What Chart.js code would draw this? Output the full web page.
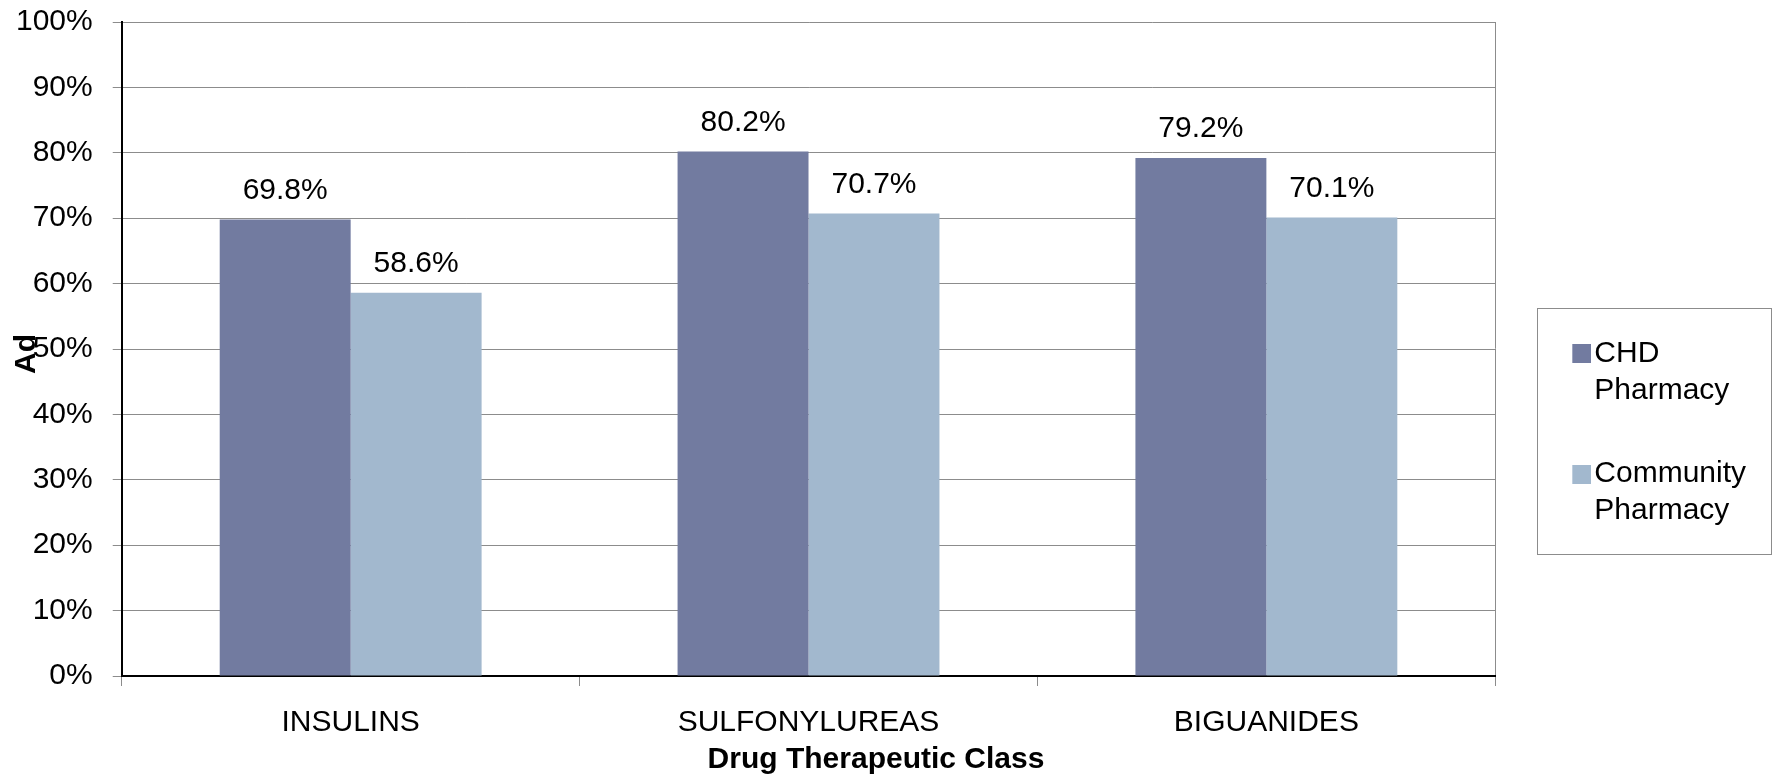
<!doctype html>
<html>
<head>
<meta charset="utf-8">
<script src="https://cdn.jsdelivr.net/npm/chart.js@4.4.1/dist/chart.umd.min.js"></script>
</head>
<body style="margin:0;background:#fff;overflow:hidden;">
<div style="width:1773px;height:782px;position:relative;">
    <canvas id="myChart"></canvas>
</div>
<script>
const categories = ['INSULINS', 'SULFONYLUREAS', 'BIGUANIDES'];
const chdPharmacy = [69.8, 80.2, 79.2];
const communityPharmacy = [58.6, 70.7, 70.1];
const seriesNames = ['CHD Pharmacy', 'Community Pharmacy'];
const seriesColors = ['rgb(114,123,160)', 'rgb(162,184,206)'];
const yTicks = [0, 10, 20, 30, 40, 50, 60, 70, 80, 90, 100];

const FONT = "'Liberation Sans', Arial, sans-serif";
Chart.defaults.font.family = FONT;
Chart.defaults.color = '#000';

// legend swatch: square sits at the right end so the text comes close to it
function swatch(color) {
    const c = document.createElement('canvas');
    c.width = 61;
    c.height = 19;
    const g = c.getContext('2d');
    g.fillStyle = color;
    g.fillRect(42, 0, 19, 19);
    return c;
}

// value labels over the bars, the cut off "Ad" y title and the legend frame
const extras = {
    id: 'extras',
    afterDatasetsDraw(chart) {
        const ctx = chart.ctx;
        ctx.save();
        ctx.font = '30px ' + FONT;
        ctx.fillStyle = '#000';
        ctx.textAlign = 'center';
        ctx.textBaseline = 'middle';
        chart.data.datasets.forEach((ds, i) => {
            chart.getDatasetMeta(i).data.forEach((bar, j) => {
                ctx.fillText(ds.data[j].toFixed(1) + '%', bar.x, bar.y - 29);
            });
        });
        const area = chart.chartArea;
        ctx.font = 'bold 30px ' + FONT;
        ctx.translate(27, (area.top + area.bottom) / 2 + 5);
        ctx.rotate(-Math.PI / 2);
        ctx.fillText('Ad', 0, 0);
        ctx.restore();
    },
    afterDraw(chart) {
        const lg = chart.legend;
        if (!lg || !lg.legendHitBoxes.length) return;
        const first = lg.legendHitBoxes[0];
        const last = lg.legendHitBoxes[lg.legendHitBoxes.length - 1];
        const x0 = Math.round(first.left - 5) + 0.5;
        const y0 = Math.round(first.top - 30) + 0.5;
        const y1 = Math.round(last.top + last.height + 21) + 0.5;
        const ctx = chart.ctx;
        ctx.save();
        ctx.strokeStyle = '#8c8c8c';
        ctx.lineWidth = 1;
        ctx.strokeRect(x0, y0, chart.width - 1.5 - x0, y1 - y0);
        ctx.restore();
    }
};

const ctx = document.getElementById('myChart').getContext('2d');
const myChart = new Chart(ctx, {
    type: 'bar',
    data: {
        labels: categories,
        datasets: [{
            label: seriesNames[0],
            data: chdPharmacy,
            backgroundColor: seriesColors[0],
            borderWidth: 0
        }, {
            label: seriesNames[1],
            data: communityPharmacy,
            backgroundColor: seriesColors[1],
            borderWidth: 0
        }]
    },
    options: {
        responsive: true,
        maintainAspectRatio: false,
        animation: false,
        layout: { padding: { left: -4, right: 17, top: 22, bottom: 0 } },
        datasets: { bar: { barPercentage: 1, categoryPercentage: 0.572 } },
        scales: {
            x: {
                offset: true,
                grid: {
                    offset: true,
                    drawOnChartArea: true,
                    color: c => c.tick ? 'rgba(0,0,0,0)' : '#8c8c8c',
                    tickColor: '#8c8c8c',
                    tickLength: 10
                },
                border: { color: '#000', width: 2 },
                ticks: { font: { size: 30 }, color: '#000', padding: 19, maxRotation: 0 }
            },
            y: {
                min: 0,
                max: 100,
                afterBuildTicks: scale => { scale.ticks = yTicks.map(v => ({ value: v })); },
                afterFit: scale => { scale.paddingTop = 0; },
                grid: { color: '#8c8c8c', tickColor: '#8c8c8c', tickLength: 9 },
                border: { color: '#000', width: 2 },
                ticks: { font: { size: 30 }, color: '#000', padding: 20, callback: v => v + '%' }
            }
        },
        plugins: {
            tooltip: { enabled: false },
            title: {
                display: true,
                position: 'bottom',
                text: 'Drug Therapeutic Class',
                font: { size: 30, weight: 'bold' },
                color: '#000',
                padding: { top: -18, bottom: 4 }
            },
            legend: {
                position: 'right',
                title: { display: true, text: ' ', font: { size: 2 }, padding: { top: 65, bottom: 0 } },
                labels: {
                    font: { size: 30, lineHeight: 1.23 },
                    color: '#000',
                    usePointStyle: true,
                    pointStyleWidth: 37,
                    padding: 47,
                    generateLabels: chart => Chart.defaults.plugins.legend.labels.generateLabels(chart)
                        .map((l, i) => Object.assign(l, {
                            text: l.text.split(' '),
                            pointStyle: swatch(seriesColors[i])
                        }))
                }
            }
        }
    },
    plugins: [extras]
});
</script>
</body>
</html>
